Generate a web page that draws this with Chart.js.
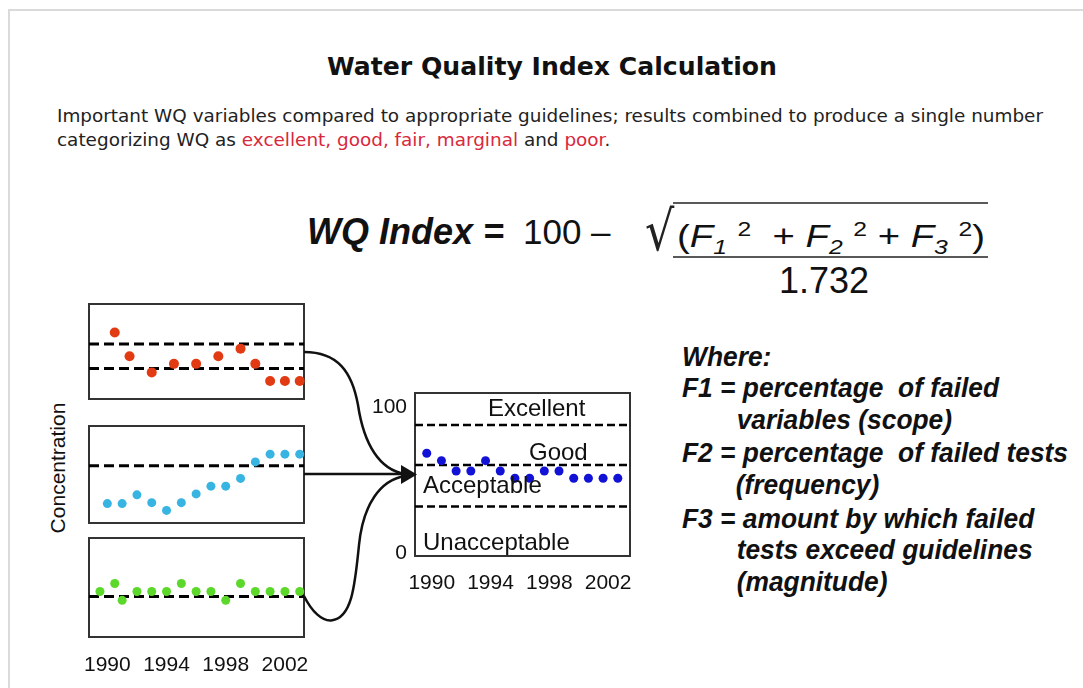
<!DOCTYPE html>
<html><head><meta charset="utf-8">
<script src="https://cdn.jsdelivr.net/npm/chart.js@4.4.1/dist/chart.umd.min.js"></script>
<style>
html,body{margin:0;padding:0;background:#fff;}
body{width:1083px;height:688px;overflow:hidden;position:relative;font-family:"Liberation Sans",Arial,sans-serif;color:#111;}
.t{position:absolute;white-space:nowrap;line-height:1;}
.cv{position:absolute;}
canvas{display:block;}
.w{font-family:"Liberation Sans",Arial,sans-serif;font-weight:bold;font-style:italic;font-size:27px;color:#111;}
.band{font-size:24px;color:#111;}
.sb{font-size:20px;font-style:italic;position:relative;top:7px;}
.sp{font-size:20px;position:relative;top:-11px;}
</style></head><body>
<div style="position:absolute;left:8px;top:9px;width:1200px;height:800px;border:2px solid #dadada;"></div>

<div id="title" class="t" style="left:327px;top:53px;font:bold 24px 'DejaVu Sans';color:#111">Water Quality Index Calculation</div>
<div id="sub" class="t" style="left:57px;top:104px;font:18px 'DejaVu Sans';line-height:24px;color:#222;transform-origin:0 0"><span id="sub1">Important WQ variables compared to appropriate guidelines; results combined to produce a single number</span><br>categorizing WQ as <span style="color:#d8283c">excellent, good, fair, marginal</span> and <span style="color:#d8283c">poor</span>.</div>

<div id="wqi" class="t" style="left:307px;top:211px;font:italic bold 36px 'Liberation Sans';">WQ Index =</div>
<div id="hund" class="t" style="left:523px;top:212px;font:35px 'Liberation Sans';">100 –</div>
<div id="rad" class="t" style="left:645px;top:198px;font:46px 'DejaVu Sans';transform:scaleY(1.2);transform-origin:0 0;color:#222">√</div>
<div id="num" class="t" style="left:677px;top:219px;font:31px 'Liberation Sans';transform-origin:0 0">(<i>F</i><span class="sb">1</span> <span class="sp">2</span> &nbsp;+ <i>F</i><span class="sb">2</span> <span class="sp">2</span> + <i>F</i><span class="sb">3</span> <span class="sp">2</span>)</div>
<div id="den" class="t" style="left:779px;top:260px;font:36px 'Liberation Sans';">1.732</div>

<div id="where" class="t" style="left:682px;top:0;transform-origin:0 0">
  <div class="w t" style="left:0;top:344px">Where:</div>
  <div class="w t" id="wl2" style="left:0;top:375px">F1 = percentage&nbsp; of failed</div>
  <div class="w t" style="left:56px;top:407px">variables (scope)</div>
  <div class="w t" id="wl4" style="left:0;top:440px">F2 = percentage&nbsp; of failed tests</div>
  <div class="w t" style="left:55px;top:472px">(frequency)</div>
  <div class="w t" style="left:0;top:506px">F3 = amount by which failed</div>
  <div class="w t" style="left:56px;top:537px">tests exceed guidelines</div>
  <div class="w t" style="left:56px;top:569px">(magnitude)</div>
</div>

<div class="t" style="left:58px;top:468px;font:21px 'Liberation Sans';transform:translate(-50%,-50%) rotate(-90deg);">Concentration</div>

<div class="cv" style="left:79px;top:294px"><canvas id="cRed" width="235" height="115"></canvas></div>
<div class="cv" style="left:79px;top:416px"><canvas id="cCyan" width="235" height="117"></canvas></div>
<div class="cv" style="left:79px;top:528px"><canvas id="cGreen" width="235" height="159"></canvas></div>
<div class="cv" style="left:360px;top:383px"><canvas id="cWqi" width="280" height="223"></canvas></div>

<div class="t band" style="left:488px;top:396px">Excellent</div>
<div class="t band" style="left:529px;top:440px">Good</div>
<div class="t band" style="left:423px;top:473px">Acceptable</div>
<div class="t band" style="left:423px;top:530px">Unacceptable</div>

<svg style="position:absolute;left:0;top:0;pointer-events:none" width="1083" height="688">
  <line x1="673" y1="203" x2="988" y2="203" stroke="#222" stroke-width="1.5"/>
  <line x1="673" y1="257" x2="988" y2="257" stroke="#222" stroke-width="1.5"/>
  <g fill="none" stroke="#111" stroke-width="2.5">
    <path d="M304,352 C338,352 352,372 358,405 C364,445 380,470 405,474"/>
    <path d="M304,474 L405,474"/>
    <path d="M304,596 C312,612 322,621 331,620.5 C352,619 355,585 359,545 C363,505 380,480 405,476"/>
  </g>
  <polygon points="401,465 417,474.5 401,484" fill="#111"/>
</svg>

<script>
// ---- data ----
const tickYears = [1990, 1994, 1998, 2002];
const redYears = [1990.5, 1991.5, 1993, 1994.5, 1996, 1997.5, 1999, 2000, 2001, 2002, 2003];
const redValues = [70, 45, 28, 37, 37, 45, 53, 37, 19, 19, 19];
const redGuides = [58, 32];
const cyanYears = [1990, 1991, 1992, 1993, 1994, 1995, 1996, 1997, 1998, 1999, 2000, 2001, 2002, 2003];
const cyanValues = [20, 20, 29, 21, 13, 21, 30, 38, 38, 46, 63, 71, 71, 71];
const cyanGuides = [59];
const greenYears = [1989.5, 1990.5, 1991, 1992, 1993, 1994, 1995, 1996, 1997, 1998, 1999, 2000, 2001, 2002, 2003];
const greenValues = [46, 54, 37, 46, 46, 46, 54, 46, 46, 37, 54, 46, 46, 46, 46];
const greenGuides = [41];
const wqiYears = [1990, 1991, 1992, 1993, 1994, 1995, 1996, 1997, 1998, 1999, 2000, 2001, 2002, 2003];
const wqiValues = [68.6, 63.5, 56.4, 56.4, 63.5, 56.4, 51.4, 51.4, 56.4, 56.4, 51.4, 51.4, 51.4, 51.4];
const wqiBands = [88, 60.5, 32];
const wqiTicks = [0, 100];

const SMALL_X = {min: 1988.76, max: 2003.29};
const WQI_X = {min: 1989.2, max: 2003.83};
const FONT = "'Liberation Sans', Arial, sans-serif";

const boxPlugin = {
  id: 'box',
  beforeDatasetsDraw(c) {
    const a = c.chartArea, ctx = c.ctx;
    ctx.save();
    ctx.strokeStyle = '#333';
    ctx.lineWidth = 2;
    ctx.strokeRect(a.left, a.top, a.right - a.left, a.bottom - a.top);
    ctx.restore();
  }
};

function guideSets(vals, xr, width, dash) {
  return vals.map(v => ({
    data: [{x: xr.min, y: v}, {x: xr.max, y: v}],
    showLine: true, borderColor: '#000', borderWidth: width, borderDash: dash,
    pointRadius: 0, clip: false
  }));
}
function pointSet(xs, ys, color, r) {
  return {
    data: xs.map((x, i) => ({x, y: ys[i]})),
    showLine: false, pointRadius: r, pointBackgroundColor: color,
    pointBorderWidth: 0, pointHoverRadius: r, clip: false
  };
}
function xAxis(xr, show, labelOffset, pad) {
  return {
    type: 'linear', min: xr.min, max: xr.max, display: show,
    grid: {display: false, drawTicks: false}, border: {display: false},
    afterBuildTicks: s => { s.ticks = tickYears.map(v => ({value: v})); },
    afterFit: s => {
      s.paddingLeft = 0; s.paddingRight = 0; s.paddingTop = 0; s.paddingBottom = 0;
      if (show) s.height = 45; else s.height = 0;
    },
    ticks: {font: {size: 21, family: FONT}, color: '#111', padding: pad, maxRotation: 0,
            autoSkip: false, labelOffset: labelOffset || 0, callback: v => String(v)}
  };
}
function small(id, xs, ys, color, r, guides, showX) {
  new Chart(document.getElementById(id), {
    type: 'scatter',
    data: {datasets: [pointSet(xs, ys, color, r)].concat(guideSets(guides, SMALL_X, 3, [10, 5]))},
    options: {
      responsive: false, animation: false, devicePixelRatio: 1,
      layout: {padding: {left: 10, right: 10, top: 10, bottom: showX ? 5 : 10}},
      plugins: {legend: {display: false}, tooltip: {enabled: false}},
      scales: {
        x: xAxis(SMALL_X, showX, 0, 16),
        y: {min: 0, max: 100, display: false,
            afterFit: s => { s.width = 0; s.paddingTop = 0; s.paddingBottom = 0; s.paddingLeft = 0; s.paddingRight = 0; }}
      }
    },
    plugins: [boxPlugin]
  });
}
small('cRed', redYears, redValues, '#e23a12', 5, redGuides, false);
small('cCyan', cyanYears, cyanValues, '#38b4e2', 4.5, cyanGuides, false);
small('cGreen', greenYears, greenValues, '#5cd82a', 4.5, greenGuides, true);

new Chart(document.getElementById('cWqi'), {
  type: 'scatter',
  data: {datasets: [pointSet(wqiYears, wqiValues, '#1212d6', 4.5)].concat(guideSets(wqiBands, WQI_X, 2.5, [8, 4]))},
  options: {
    responsive: false, animation: false, devicePixelRatio: 1,
    layout: {padding: {left: 0, right: 10, top: 10, bottom: 5}},
    plugins: {legend: {display: false}, tooltip: {enabled: false}},
    scales: {
      x: xAxis(WQI_X, true, 5, 15),
      y: {
        type: 'linear', min: -2, max: 110, display: true,
        grid: {display: false, drawTicks: false}, border: {display: false},
        afterBuildTicks: s => { s.ticks = wqiTicks.map(v => ({value: v})); },
        afterFit: s => { s.width = 55; s.paddingTop = 0; s.paddingBottom = 0; s.paddingLeft = 0; s.paddingRight = 0; },
        ticks: {font: {size: 21, family: FONT}, color: '#111', padding: 8, callback: v => String(v)}
      }
    }
  },
  plugins: [boxPlugin]
});

// horizontal fitting of text blocks to the reference widths
function fitX(el, measureEl, w) {
  const cur = measureEl.getBoundingClientRect().width;
  el.style.transformOrigin = '0 0';
  el.style.transform = 'scaleX(' + (w / cur) + ')';
}
fitX(document.getElementById('title'), document.getElementById('title'), 450);
fitX(document.getElementById('sub'), document.getElementById('sub1'), 986);
fitX(document.getElementById('num'), document.getElementById('num'), 308);
fitX(document.getElementById('where'), document.getElementById('wl4'), 386);
</script>
</body></html>
